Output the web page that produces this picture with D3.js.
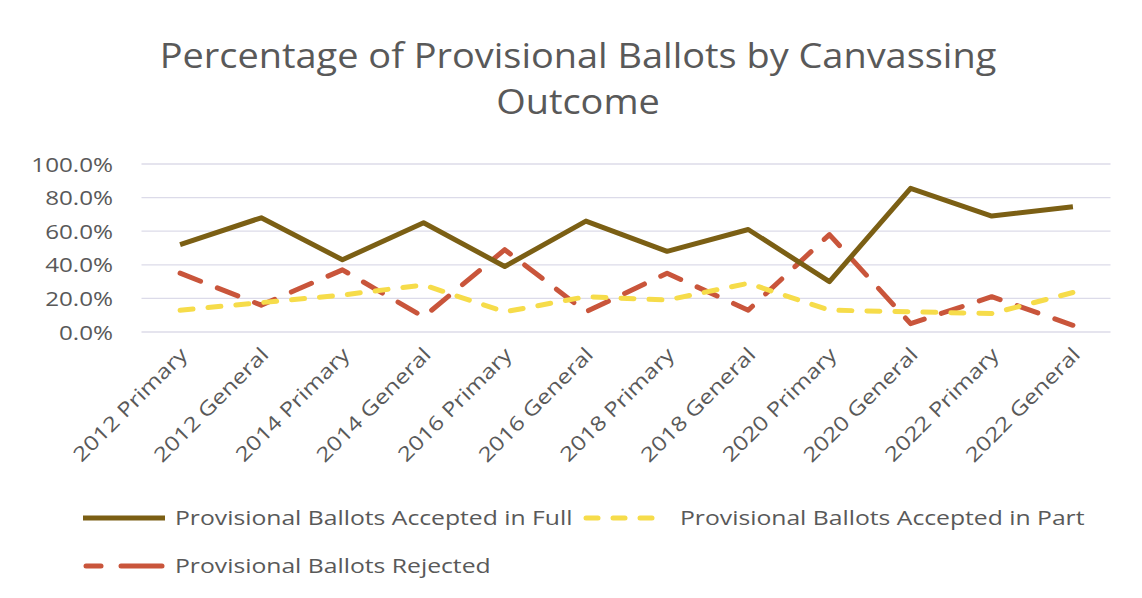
<!DOCTYPE html>
<html>
<head>
<meta charset="utf-8">
<script src="https://cdn.jsdelivr.net/npm/d3@7"></script>
<style>
  html, body { margin: 0; padding: 0; background: #fff; }
  svg { display: block; }
  text { font-family: "Open Sans", sans-serif; fill: #595959; }
</style>
</head>
<body>
<svg id="chart" width="1142" height="598"></svg>
<script>
// Election categories along the x axis
const categories = [
  "2012 Primary", "2012 General", "2014 Primary", "2014 General",
  "2016 Primary", "2016 General", "2018 Primary", "2018 General",
  "2020 Primary", "2020 General", "2022 Primary", "2022 General"
];

// Share of provisional ballots by canvassing outcome (fractions)
const acceptedFull = [0.52, 0.68, 0.43, 0.65, 0.39, 0.66, 0.48, 0.61, 0.30, 0.855, 0.69, 0.745];
const acceptedPart = [0.13, 0.175, 0.22, 0.28, 0.12, 0.21, 0.19, 0.29, 0.13, 0.12, 0.11, 0.235];
const rejected     = [0.35, 0.16, 0.37, 0.09, 0.49, 0.12, 0.35, 0.13, 0.58, 0.05, 0.21, 0.04];

const yTicks = [0, 0.2, 0.4, 0.6, 0.8, 1.0];

const titleLines = ["Percentage of Provisional Ballots by Canvassing", "Outcome"];

const seriesNames = [
  "Provisional Ballots Accepted in Full",
  "Provisional Ballots Accepted in Part",
  "Provisional Ballots Rejected"
];

const series = [
  { name: seriesNames[0], values: acceptedFull, color: "#7b5f14", dash: null },
  { name: seriesNames[1], values: acceptedPart, color: "#f6dc4a", dash: "13,15" },
  { name: seriesNames[2], values: rejected,     color: "#c9553b", dash: "22,18" }
];

// Widen glyphs so the face reads like the wider original type
function widen(k) {
  return sel => sel.each(function () {
    const len = this.getComputedTextLength();
    d3.select(this)
      .attr("textLength", len * k)
      .attr("lengthAdjust", "spacingAndGlyphs");
  });
}

const svg = d3.select("#chart");

const plot = { left: 139.5, right: 1113.5, top: 164, bottom: 332 };

const x = d3.scalePoint().domain(categories).range([plot.left, plot.right]).padding(0.5);
const y = d3.scaleLinear().domain([0, 1]).range([plot.bottom, plot.top]);

// Title
svg.append("g")
  .selectAll("text")
  .data(titleLines)
  .join("text")
  .attr("x", 578)
  .attr("y", (d, i) => 68 + i * 46)
  .attr("text-anchor", "middle")
  .attr("font-size", 34)
  .text(d => d)
  .call(widen(1.115));

// Gridlines
svg.append("g")
  .selectAll("line")
  .data(yTicks)
  .join("line")
  .attr("x1", plot.left + 2)
  .attr("x2", plot.right - 3)
  .attr("y1", d => y(d))
  .attr("y2", d => y(d))
  .attr("stroke", "#dcdbe9")
  .attr("stroke-width", 1.3);

// Y axis labels
const yAxis = d3.axisLeft(y)
  .tickValues(yTicks)
  .tickFormat(d3.format(".1%"))
  .tickSize(0)
  .tickPadding(0);
const yg = svg.append("g").attr("transform", `translate(${113},0)`).call(yAxis);
yg.select(".domain").remove();
yg.selectAll("text")
  .attr("font-size", 20)
  .attr("font-family", "'Open Sans', sans-serif")
  .attr("fill", "#595959")
  .attr("dy", "0.35em")
  .call(widen(1.21));

// X axis labels, rotated
const xAxis = d3.axisBottom(x).tickSize(0).tickPadding(0);
const xg = svg.append("g").attr("transform", `translate(0,${plot.bottom})`).call(xAxis);
xg.select(".domain").remove();
xg.selectAll("text")
  .attr("font-size", 20)
  .attr("font-family", "'Open Sans', sans-serif")
  .attr("fill", "#595959")
  .attr("text-anchor", "end")
  .attr("dy", "0")
  .attr("y", 0)
  .attr("transform", "translate(8,24) rotate(-45)")
  .call(widen(1.22));

// Series lines
const line = d3.line()
  .x((d, i) => x(categories[i]))
  .y(d => y(d));

svg.append("g")
  .selectAll("path")
  .data(series.slice().reverse())
  .join("path")
  .attr("d", d => line(d.values))
  .attr("fill", "none")
  .attr("stroke", d => d.color)
  .attr("stroke-width", 5)
  .attr("stroke-linecap", d => d.dash ? "round" : "butt")
  .attr("stroke-linejoin", "round")
  .attr("stroke-dasharray", d => d.dash);

// Legend
const legendItems = [
  { s: series[0], tx: 175, y: 518, segs: [[83, 165]], cap: "butt" },
  { s: series[1], tx: 680, y: 518, segs: [[586, 598], [613, 625], [640, 652]], cap: "round" },
  { s: series[2], tx: 175, y: 566, segs: [[86, 101], [121, 162]], cap: "round" }
];
const legend = svg.append("g");
legendItems.forEach(it => {
  const g = legend.append("g");
  it.segs.forEach(([a, b]) => {
    g.append("line").attr("x1", a).attr("x2", b)
      .attr("y1", it.y).attr("y2", it.y)
      .attr("stroke", it.s.color).attr("stroke-width", 5)
      .attr("stroke-linecap", it.cap);
  });
  g.append("text")
    .attr("x", it.tx).attr("y", it.y)
    .attr("dy", "0.35em")
    .attr("font-size", 20)
    .text(it.s.name)
    .call(widen(1.235));
});
</script>
</body>
</html>
